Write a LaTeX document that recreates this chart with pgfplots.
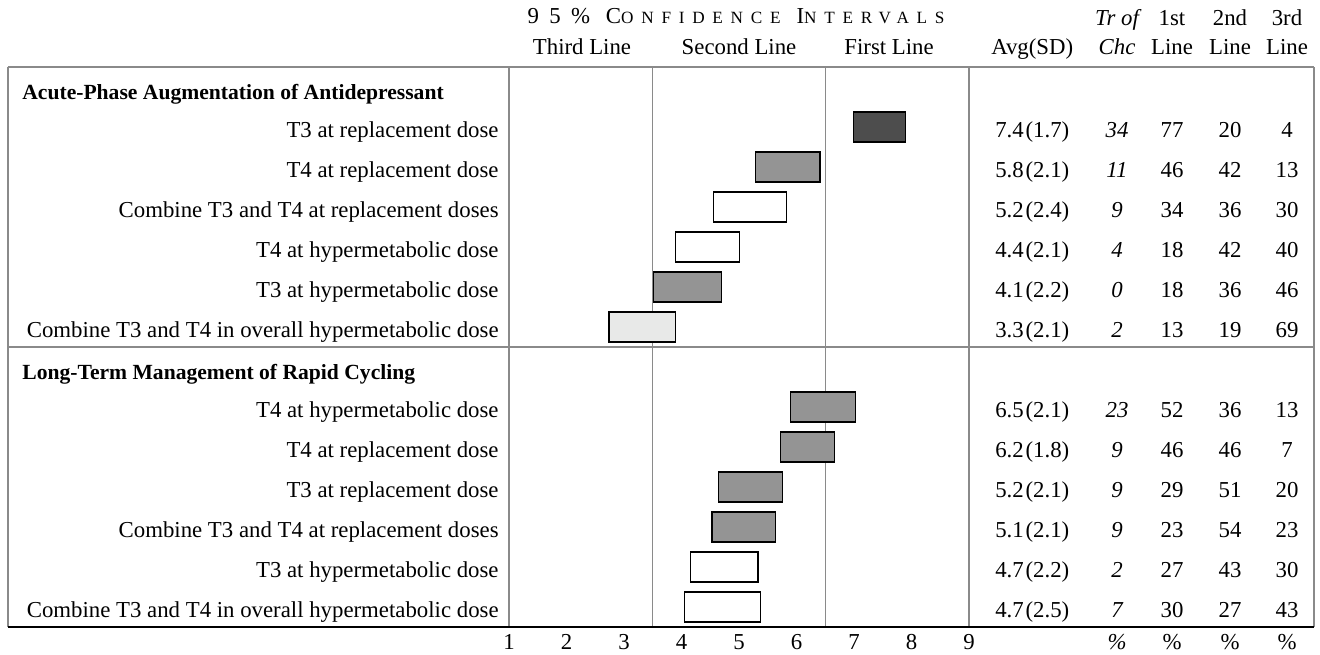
\documentclass[border=0pt]{standalone}
\usepackage{fontspec}
\setmainfont{Liberation Serif}
\usepackage{pgfplots}
\pgfplotsset{compat=1.18}

\definecolor{barDark}{HTML}{4D4D4D}
\definecolor{barMid}{HTML}{949494}
\definecolor{barLight}{HTML}{E8E9E8}
\definecolor{ruleGray}{HTML}{8A8A8A}

% column positions (axis units) of the table on the right
\def\colAvg{10.10}
\def\colTr{11.574}
\def\colA{12.530}
\def\colB{13.539}
\def\colC{14.530}
\def\labRight{0.826}
\def\headLeft{-7.47}

% one table row: y, label, avg(sd), times chosen, 1st, 2nd, 3rd
\newcommand\tablerow[7]{%
  \node[anchor=base east] at (axis cs:\labRight,#1-0.25) {#2};
  \node[anchor=base] at (axis cs:\colAvg,#1-0.25) {#3};
  \node[anchor=base] at (axis cs:\colTr,#1-0.25) {\itshape #4};
  \node[anchor=base] at (axis cs:\colA,#1-0.25) {#5};
  \node[anchor=base] at (axis cs:\colB,#1-0.25) {#6};
  \node[anchor=base] at (axis cs:\colC,#1-0.25) {#7};
}
\newcommand\sdv[2]{#1\kern0.9pt(#2)}
\newcommand\smc[1]{{\fontsize{8.6}{9}\selectfont #1}}
\newcommand\grouphead[1]{{\fontsize{10.8}{12}\selectfont\bfseries #1}}

\begin{document}
\fontsize{11.4}{13.6}\selectfont
\begin{tikzpicture}[font=\fontsize{11.4}{13.6}\selectfont, every node/.append style={inner sep=0pt}]
\begin{axis}[
  scale only axis,
  width=653pt, height=280pt,
  xmin=-7.713, xmax=15, ymin=0, ymax=14,
  axis line style={draw=none},
  xtick={1,2,3,4,5,6,7,8,9},
  xticklabels={1,2,3,4,5,6,7,8,9},
  ytick=\empty,
  major tick length=0pt,
  xticklabel style={anchor=base, yshift=-11pt},
  clip=false,
  bar/.style={draw=black, line width=0.6pt},
]
% page extent
\path (axis cs:-7.852,-0.675) rectangle (axis cs:15.104,15.675);

% frame and rules
\draw[ruleGray, line width=0.6pt] (axis cs:-7.713,14) -- (axis cs:15,14);
\draw[ruleGray, line width=0.6pt] (axis cs:-7.713,7) -- (axis cs:15,7);
\draw[ruleGray, line width=0.6pt] (axis cs:-7.713,0) -- (axis cs:-7.713,14);
\draw[ruleGray, line width=0.6pt] (axis cs:15,0) -- (axis cs:15,14);
\draw[ruleGray, line width=0.6pt] (axis cs:1,0) -- (axis cs:1,14);
\draw[ruleGray, line width=0.6pt] (axis cs:9,0) -- (axis cs:9,14);
\draw[ruleGray, line width=0.6pt] (axis cs:3.5,0) -- (axis cs:3.5,14);
\draw[ruleGray, line width=0.6pt] (axis cs:6.5,0) -- (axis cs:6.5,14);

% 95% confidence intervals, acute-phase augmentation
\addplot[bar, fill=barDark]  coordinates {(6.99,12.125) (7.90,12.125) (7.90,12.875) (6.99,12.875)} -- cycle;
\addplot[bar, fill=barMid]   coordinates {(5.28,11.125) (6.41,11.125) (6.41,11.875) (5.28,11.875)} -- cycle;
\addplot[bar, fill=white]    coordinates {(4.56,10.125) (5.82,10.125) (5.82,10.875) (4.56,10.875)} -- cycle;
\addplot[bar, fill=white]    coordinates {(3.89,9.125) (5.01,9.125) (5.01,9.875) (3.89,9.875)} -- cycle;
\addplot[bar, fill=barMid]   coordinates {(3.51,8.125) (4.69,8.125) (4.69,8.875) (3.51,8.875)} -- cycle;
\addplot[bar, fill=barLight] coordinates {(2.74,7.125) (3.90,7.125) (3.90,7.875) (2.74,7.875)} -- cycle;
% long-term management of rapid cycling
\addplot[bar, fill=barMid]   coordinates {(5.90,5.125) (7.02,5.125) (7.02,5.875) (5.90,5.875)} -- cycle;
\addplot[bar, fill=barMid]   coordinates {(5.72,4.125) (6.66,4.125) (6.66,4.875) (5.72,4.875)} -- cycle;
\addplot[bar, fill=barMid]   coordinates {(4.64,3.125) (5.75,3.125) (5.75,3.875) (4.64,3.875)} -- cycle;
\addplot[bar, fill=barMid]   coordinates {(4.53,2.125) (5.64,2.125) (5.64,2.875) (4.53,2.875)} -- cycle;
\addplot[bar, fill=white]    coordinates {(4.16,1.125) (5.33,1.125) (5.33,1.875) (4.16,1.875)} -- cycle;
\addplot[bar, fill=white]    coordinates {(4.05,0.125) (5.37,0.125) (5.37,0.875) (4.05,0.875)} -- cycle;

\draw[black, line width=0.8pt] (axis cs:-7.713,0) -- (axis cs:15,0);

% column headings
\node[anchor=base] at (axis cs:4.95,15.075)
  {\addfontfeature{LetterSpace=45}95\% C\smc{ONFIDENCE} I\smc{NTERVALS}};
\node[anchor=base] at (axis cs:2.27,14.3) {Third Line};
\node[anchor=base] at (axis cs:5.0,14.3) {Second Line};
\node[anchor=base] at (axis cs:7.61,14.3) {First Line};
\node[anchor=base] at (axis cs:\colAvg,14.3) {Avg(SD)};
\node[anchor=base] at (axis cs:\colTr,15.025) {\itshape Tr of};
\node[anchor=base] at (axis cs:\colTr,14.3) {\itshape Chc};
\node[anchor=base] at (axis cs:\colA,15.025) {1st};
\node[anchor=base] at (axis cs:\colA,14.3) {Line};
\node[anchor=base] at (axis cs:\colB,15.025) {2nd};
\node[anchor=base] at (axis cs:\colB,14.3) {Line};
\node[anchor=base] at (axis cs:\colC,15.025) {3rd};
\node[anchor=base] at (axis cs:\colC,14.3) {Line};

% group headings
\node[anchor=base west] at (axis cs:\headLeft,13.2) {\grouphead{Acute-Phase Augmentation of Antidepressant}};
\node[anchor=base west] at (axis cs:\headLeft,6.2) {\grouphead{Long-Term Management of Rapid Cycling}};

% rows
\tablerow{12.5}{T3 at replacement dose}{\sdv{7.4}{1.7}}{34}{77}{20}{4}
\tablerow{11.5}{T4 at replacement dose}{\sdv{5.8}{2.1}}{11}{46}{42}{13}
\tablerow{10.5}{Combine T3 and T4 at replacement doses}{\sdv{5.2}{2.4}}{9}{34}{36}{30}
\tablerow{9.5}{T4 at hypermetabolic dose}{\sdv{4.4}{2.1}}{4}{18}{42}{40}
\tablerow{8.5}{T3 at hypermetabolic dose}{\sdv{4.1}{2.2}}{0}{18}{36}{46}
\tablerow{7.5}{Combine T3 and T4 in overall hypermetabolic dose}{\sdv{3.3}{2.1}}{2}{13}{19}{69}
\tablerow{5.5}{T4 at hypermetabolic dose}{\sdv{6.5}{2.1}}{23}{52}{36}{13}
\tablerow{4.5}{T4 at replacement dose}{\sdv{6.2}{1.8}}{9}{46}{46}{7}
\tablerow{3.5}{T3 at replacement dose}{\sdv{5.2}{2.1}}{9}{29}{51}{20}
\tablerow{2.5}{Combine T3 and T4 at replacement doses}{\sdv{5.1}{2.1}}{9}{23}{54}{23}
\tablerow{1.5}{T3 at hypermetabolic dose}{\sdv{4.7}{2.2}}{2}{27}{43}{30}
\tablerow{0.5}{Combine T3 and T4 in overall hypermetabolic dose}{\sdv{4.7}{2.5}}{7}{30}{27}{43}

% units below the table
\node[anchor=base] at (axis cs:\colTr,-0.55) {\itshape\%};
\node[anchor=base] at (axis cs:\colA,-0.55) {\%};
\node[anchor=base] at (axis cs:\colB,-0.55) {\%};
\node[anchor=base] at (axis cs:\colC,-0.55) {\%};
\end{axis}
\end{tikzpicture}
\end{document}
